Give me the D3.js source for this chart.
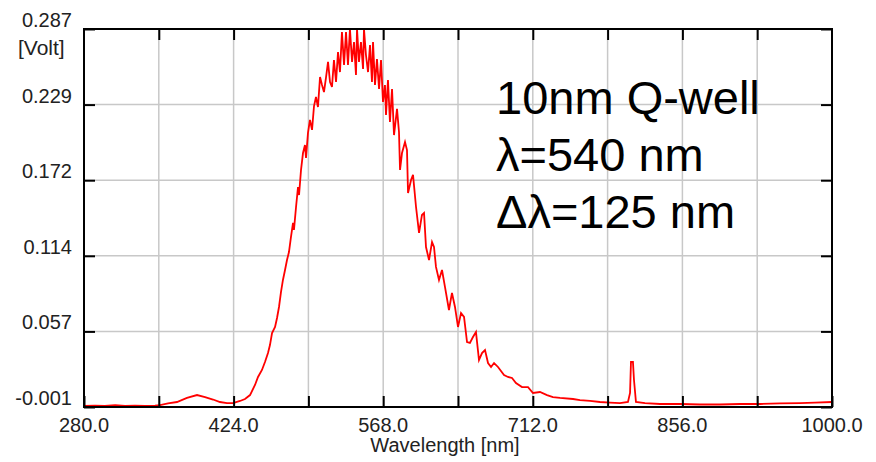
<!DOCTYPE html>
<html>
<head>
<meta charset="utf-8">
<script src="https://cdn.jsdelivr.net/npm/d3@7"></script>
<style>
  html, body { margin: 0; padding: 0; background: #ffffff; }
  svg { display: block; }
</style>
</head>
<body>
<svg id="chart" width="876" height="462"></svg>
<script>
// ---- data ----
const wavelength = [
  280, 290.6, 300, 310, 319.5, 329, 338.7, 348.3, 353.2, 360.9, 369.5, 379.1, 388.8, 396.5, 404.2, 410.9,
  417.6, 423.4, 430.2, 435, 439.8, 444.6, 447.5, 451.3, 454.2, 457.1, 459, 461, 463.9, 465.8, 467.7, 469.6,
  471.5, 473.5, 475.4, 477.3, 479.2, 481.2, 482.1, 484.1, 486, 487, 488.9, 490.8, 492.7, 493.7, 495.6, 497.5,
  499.5, 501.4, 503.3, 505.2, 507.2, 509.1, 511, 512.9, 514.9, 516.8, 518.7, 520.6, 522.6, 524.5, 526.4, 528.3,
  530.3, 532.2, 534.1, 536, 538, 539.9, 541.8, 542.8, 544.7, 546.6, 548.6, 549.5, 551.4, 553.4, 555.3, 557.2,
  558.2, 560.1, 562, 564, 565.9, 567.8, 569.7, 570.7, 572.6, 574.5, 576.5, 578.4, 581.3, 583.2, 584.2, 586.1,
  589, 590.9, 591.9, 594.8, 596.7, 599.6, 602.5, 605.3, 607.3, 609.2, 612.1, 615, 616.9, 618.8, 621.7, 624.6,
  627.5, 631.3, 634.2, 637.1, 640, 642.9, 645.8, 648.7, 651.5, 654.4, 657.3, 660.2, 663.1, 666, 668.9, 671.8,
  674.7, 678.5, 684.3, 688.1, 692, 695.8, 701.6, 707.4, 712.2, 718.9, 725.7, 731.4, 738.2, 750.7, 757.4, 767.1,
  776.7, 786.3, 795.9, 803.6, 805.6, 806.5, 808.4, 809.4, 811.3, 820, 834.4, 853.7, 872.9, 892.2, 911.4, 930.7,
  949.9, 969.2, 983.6, 1000
];
const voltage = [
  -0.0002, 0.0001, -0.0002, 0.0005, -0.0002, 0.0001, -0.0002, 0.0001, 0.0005, 0.0017, 0.0028, 0.0059, 0.0081, 0.0066, 0.0047, 0.0028,
  0.0020, 0.0020, 0.0036, 0.0051, 0.0081, 0.0158, 0.0219, 0.0272, 0.0333, 0.0401, 0.0462, 0.0554, 0.0600, 0.0668, 0.0752, 0.0866,
  0.0958, 0.1034, 0.1110, 0.1171, 0.1285, 0.1392, 0.1339, 0.1514, 0.1666, 0.1605, 0.1796, 0.1925, 0.1986, 0.1887, 0.2078, 0.2177,
  0.2101, 0.2283, 0.2352, 0.2276, 0.2504, 0.2443, 0.2390, 0.2497, 0.2619, 0.2466, 0.2428, 0.2634, 0.2466, 0.2695, 0.2542, 0.2847,
  0.2596, 0.2847, 0.2596, 0.2870, 0.2619, 0.2771, 0.2520, 0.2870, 0.2619, 0.2771, 0.2565, 0.2870, 0.2672, 0.2542, 0.2748, 0.2466,
  0.2771, 0.2443, 0.2641, 0.2413, 0.2634, 0.2314, 0.2443, 0.2215, 0.2481, 0.2161, 0.2413, 0.2062, 0.2261, 0.2085, 0.1796, 0.1925,
  0.2009, 0.1948, 0.1620, 0.1720, 0.1758, 0.1514, 0.1316, 0.1453, 0.1468, 0.1209, 0.1110, 0.1247, 0.1209, 0.1057, 0.0958, 0.1034,
  0.0904, 0.0729, 0.0859, 0.0752, 0.0600, 0.0706, 0.0676, 0.0485, 0.0478, 0.0523, 0.0561, 0.0348, 0.0401, 0.0424, 0.0325, 0.0295,
  0.0325, 0.0295, 0.0234, 0.0219, 0.0211, 0.0173, 0.0142, 0.0142, 0.0097, 0.0104, 0.0081, 0.0066, 0.0059, 0.0051, 0.0043, 0.0036,
  0.0028, 0.0024, 0.0020, 0.0028, 0.0097, 0.0333, 0.0333, 0.0196, 0.0028, 0.0020, 0.0013, 0.0013, 0.0009, 0.0009, 0.0013, 0.0013,
  0.0017, 0.0020, 0.0024, 0.0028
];
const xTickValues = [280, 424, 568, 712, 856, 1000];
const xTickLabels = ["280.0", "424.0", "568.0", "712.0", "856.0", "1000.0"];
const xGridValues = [352, 424, 496, 568, 640, 712, 784, 856, 928];
const yTickValues = [-0.001, 0.0566, 0.1142, 0.1718, 0.2294, 0.287];
const yTickLabels = ["-0.001", "0.057", "0.114", "0.172", "0.229", "0.287"];
const yUnit = "[Volt]";
const xTitle = "Wavelength [nm]";
const annotation = ["10nm Q-well", "λ=540 nm", "Δλ=125 nm"];

// ---- layout ----
const L = 84, R = 832, T = 29, B = 407;
const svg = d3.select("#chart");
const x = d3.scaleLinear().domain([280, 1000]).range([L, R]);
const y = d3.scaleLinear().domain([-0.001, 0.287]).range([B, T]);
const font = "'Liberation Sans', Arial, sans-serif";
const textCol = "#222";
const smallSize = 20;

// gridlines
const grid = svg.append("g").attr("stroke", "#c8c8c8").attr("stroke-width", 1.5);
grid.selectAll("line.gx").data(xGridValues).join("line")
  .attr("x1", d => x(d)).attr("x2", d => x(d)).attr("y1", T).attr("y2", B);
grid.selectAll("line.gy").data(yTickValues.slice(1, -1)).join("line")
  .attr("y1", d => y(d)).attr("y2", d => y(d)).attr("x1", L).attr("x2", R);

// data line
const line = d3.line().x((d, i) => x(wavelength[i])).y(d => y(d));
svg.append("path").datum(voltage)
  .attr("d", line)
  .attr("fill", "none").attr("stroke", "#ff0000").attr("stroke-width", 1.8)
  .attr("stroke-linejoin", "miter");

// axes with inner ticks
const tickLen = 11;
const axB = d3.axisBottom(x).tickValues(xGridValues.concat([280, 1000])).tickSize(-tickLen).tickFormat("");
const axT = d3.axisTop(x).tickValues(xGridValues).tickSize(-tickLen).tickFormat("");
const axL = d3.axisLeft(y).tickValues(yTickValues).tickSize(-tickLen).tickFormat("");
const axR = d3.axisRight(y).tickValues(yTickValues).tickSize(-tickLen).tickFormat("");
function styleAxis(g) {
  g.select(".domain").remove();
  g.selectAll(".tick line").attr("stroke", "#000").attr("stroke-width", 2);
}
svg.append("g").attr("transform", `translate(0,${B})`).call(axB).call(styleAxis);
svg.append("g").attr("transform", `translate(0,${T})`).call(axT).call(styleAxis);
svg.append("g").attr("transform", `translate(${L},0)`).call(axL).call(styleAxis);
svg.append("g").attr("transform", `translate(${R},0)`).call(axR).call(styleAxis);

// frame
svg.append("rect").attr("x", L).attr("y", T).attr("width", R - L).attr("height", B - T)
  .attr("fill", "none").attr("stroke", "#000").attr("stroke-width", 2);

// x tick labels
svg.append("g").selectAll("text").data(xTickValues).join("text")
  .attr("x", d => x(d)).attr("y", 432)
  .attr("text-anchor", "middle")
  .attr("font-family", font).attr("font-size", smallSize).attr("fill", textCol)
  .text((d, i) => xTickLabels[i]);

// y tick labels
svg.append("g").selectAll("text").data(yTickValues).join("text")
  .attr("x", 72).attr("y", d => y(d) - 2)
  .attr("text-anchor", "end")
  .attr("font-family", font).attr("font-size", smallSize).attr("fill", textCol)
  .text((d, i) => yTickLabels[i]);

// unit label
svg.append("text").attr("x", 18).attr("y", 55)
  .attr("font-family", font).attr("font-size", smallSize + 1).attr("fill", textCol)
  .text(yUnit);

// x title
svg.append("text").attr("x", 445).attr("y", 452)
  .attr("text-anchor", "middle")
  .attr("font-family", font).attr("font-size", smallSize).attr("fill", textCol)
  .text(xTitle);

// annotation
svg.append("g").selectAll("text").data(annotation).join("text")
  .attr("x", 496).attr("y", (d, i) => 114 + i * 57)
  .attr("font-family", font).attr("font-size", 47).attr("fill", "#000")
  .text(d => d);
</script>
</body>
</html>
